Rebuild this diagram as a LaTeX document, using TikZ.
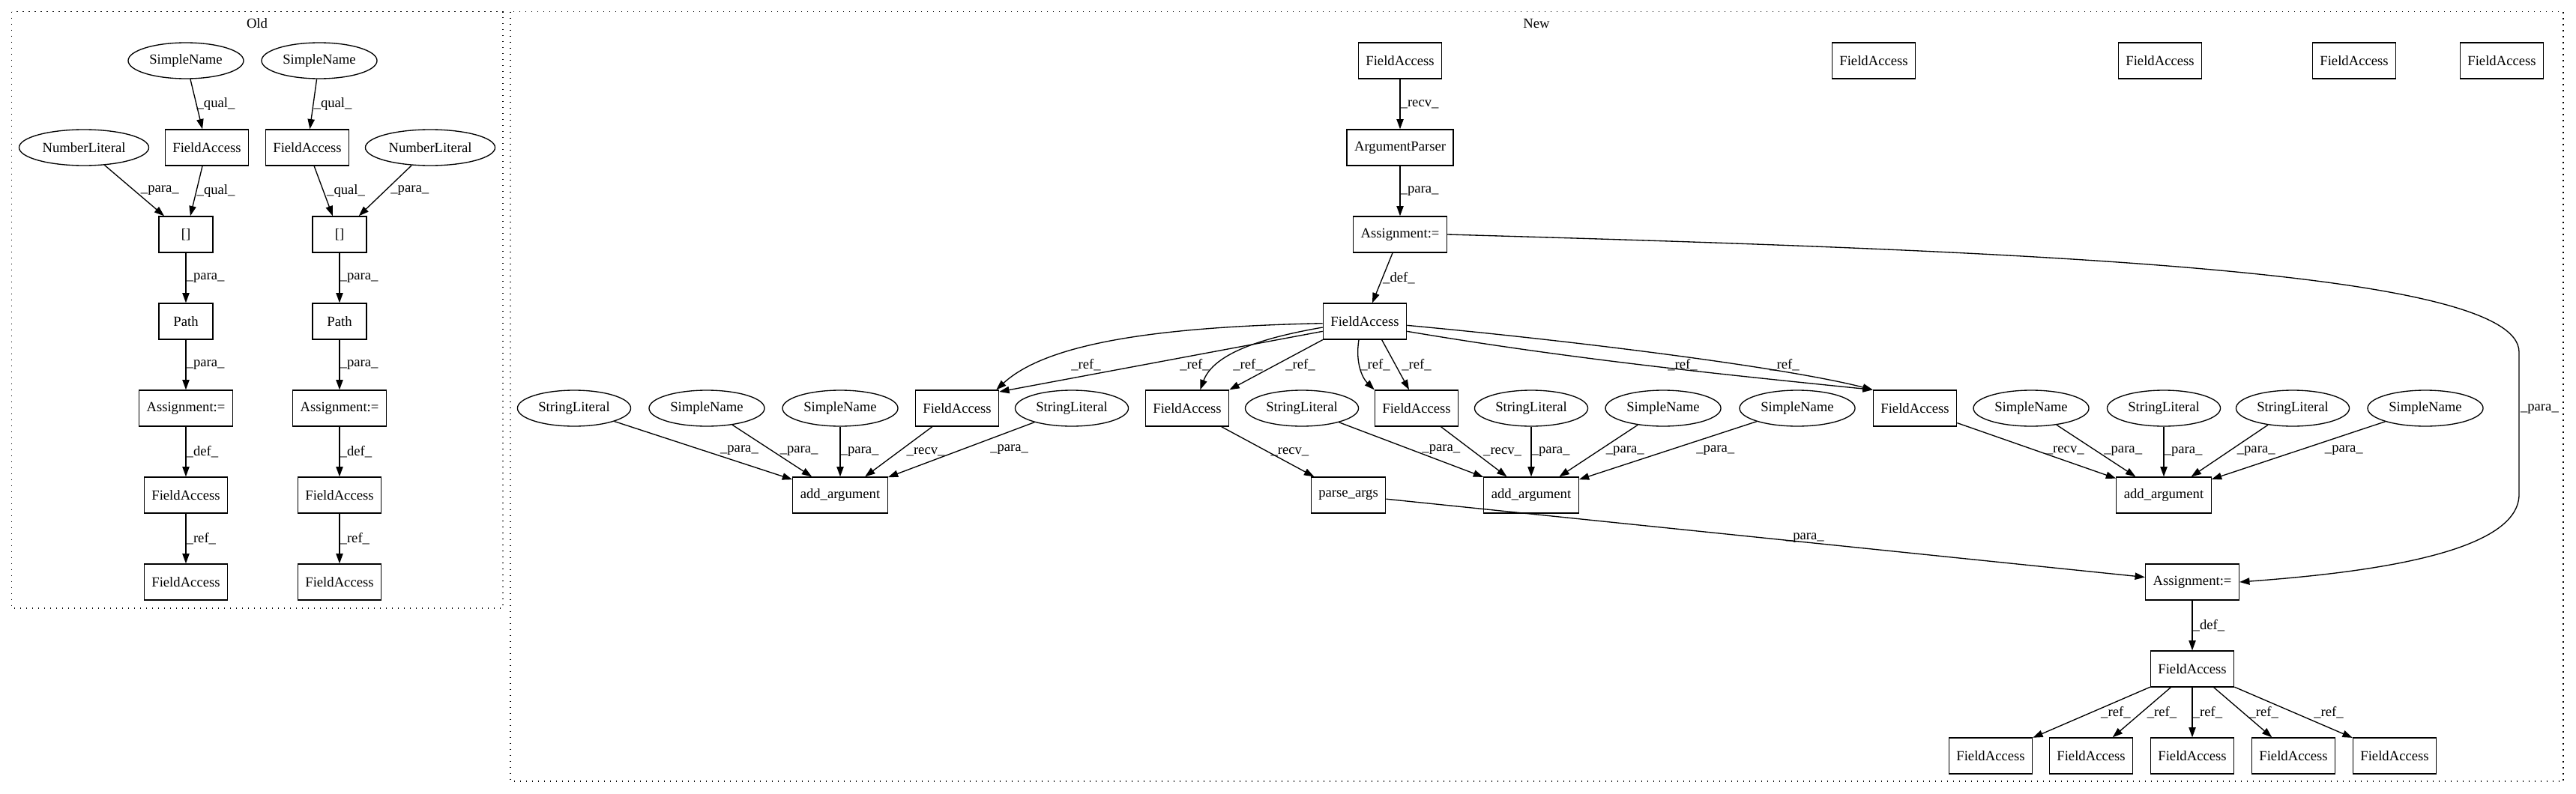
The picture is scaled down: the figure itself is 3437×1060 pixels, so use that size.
\documentclass[tikz,border=0pt]{standalone}
\usepackage{fontspec}
\setmainfont{Liberation Serif}
\usetikzlibrary{shapes.geometric, arrows.meta, positioning}

\begin{document}
\begin{tikzpicture}[
    x=0.75pt, y=-0.75pt,
    font=\fontsize{14}{16}\selectfont,
    box/.style={rectangle, draw=black, line width=1pt, minimum width=54pt, minimum height=36pt, inner xsep=7.5pt, inner ysep=2pt},
    oval/.style={ellipse, draw=black, line width=1pt, minimum height=36pt, inner xsep=4.3pt, inner ysep=1pt},
    arrow/.style={-{Triangle[length=10pt, width=7pt]}, line width=1pt},
    lbl/.style={anchor=west, inner sep=0pt},
    cluster/.style={draw=black, line width=1pt, dash pattern=on 1pt off 5pt}
]
\useasboundingbox (0,0) rectangle (3437,1060);

% Old cluster
\draw[cluster] (15.5,15.5) rectangle (671,812);
\node (oldtitle) at (343,31) {Old};

\node[oval] (sname1) at (248,81) {SimpleName};
\node[oval] (sname2) at (426,81) {SimpleName};
\node[oval] (numlit1) at (112,197) {NumberLiteral};
\node[box] (field1) at (276,197) {FieldAccess};
\node[box] (field2) at (410,197) {FieldAccess};
\node[oval] (numlit2) at (574,197) {NumberLiteral};
\node[box] (index1) at (248,313) {[]};
\node[box] (index2) at (453,313) {[]};
\node[box, below=50pt of index1] (path1) {Path};
\node[box, below=50pt of index2] (path2) {Path};
\node[box, below=50pt of path1] (assign1) {Assignment:=};
\node[box, below=50pt of path2] (assign2) {Assignment:=};
\node[box, below=50pt of assign1] (fdef1) {FieldAccess};
\node[box, below=50pt of assign2] (fdef2) {FieldAccess};
\node[box, below=50pt of fdef1] (fref1) {FieldAccess};
\node[box, below=50pt of fdef2] (fref2) {FieldAccess};

% Old edges
\draw[arrow] (sname1) -- node[lbl] {\_qual\_} (field1);
\draw[arrow] (sname2) -- node[lbl] {\_qual\_} (field2);
\draw[arrow] (numlit1) -- node[lbl, xshift=6pt] {\_para\_} (index1);
\draw[arrow] (field1) -- node[lbl] {\_qual\_} (index1);
\draw[arrow] (field2) -- node[lbl, xshift=3pt] {\_qual\_} (index2);
\draw[arrow] (numlit2) -- node[lbl, xshift=5pt] {\_para\_} (index2);
\draw[arrow] (index1) -- node[lbl] {\_para\_} (path1);
\draw[arrow] (index2) -- node[lbl] {\_para\_} (path2);
\draw[arrow] (path1) -- node[lbl] {\_para\_} (assign1);
\draw[arrow] (path2) -- node[lbl] {\_para\_} (assign2);
\draw[arrow] (assign1) -- node[lbl] {\_def\_} (fdef1);
\draw[arrow] (assign2) -- node[lbl] {\_def\_} (fdef2);
\draw[arrow] (fdef1) -- node[lbl] {\_ref\_} (fref1);
\draw[arrow] (fdef2) -- node[lbl] {\_ref\_} (fref2);

% New cluster
\draw[cluster] (681,15.5) rectangle (3420,1043);
\node (newtitle) at (2050,31) {New};

\node[box] (fieldtop) at (1868,81) {FieldAccess};
\node[box, below=50pt of fieldtop] (argparser) {ArgumentParser};
\node[box, below=50pt of argparser] (assigntop) {Assignment:=};
\node[box] (lone1) at (2500,81) {FieldAccess};
\node[box] (lone2) at (2882,81) {FieldAccess};
\node[box] (lone3) at (3141,81) {FieldAccess};
\node[box] (lone4) at (3338,81) {FieldAccess};

\node[box] (fmain) at (1821,429) {FieldAccess};

% Arguments row
\node[oval] (strlit1) at (766,545) {StringLiteral};
\node[oval] (simple1) at (943,545) {SimpleName};
\node[oval] (simple2) at (1121,545) {SimpleName};
\node[box] (fuse1) at (1277,545) {FieldAccess};
\node[oval] (strlit2) at (1430,545) {StringLiteral};
\node[box] (fuse2) at (1584,545) {FieldAccess};
\node[oval] (strlit3) at (1737,545) {StringLiteral};
\node[box] (fuse3) at (1890,545) {FieldAccess};
\node[oval] (strlit4) at (2043,545) {StringLiteral};
\node[oval] (simple3) at (2219,545) {SimpleName};
\node[oval] (simple4) at (2398,545) {SimpleName};
\node[box] (fuse4) at (2555,545) {FieldAccess};
\node[oval] (simple5) at (2710,545) {SimpleName};
\node[oval] (strlit5) at (2887,545) {StringLiteral};
\node[oval] (strlit6) at (3059,545) {StringLiteral};
\node[oval] (simple6) at (3236,545) {SimpleName};

% Calls
\node[box] (addarg1) at (1121,661) {add\_argument};
\node[box] (parseargs) at (1799,661) {parse\_args};
\node[box] (addarg2) at (2043,661) {add\_argument};
\node[box] (addarg3) at (2887,661) {add\_argument};

\node[box] (assignbot) at (2925,777) {Assignment:=};
\node[box, below=50pt of assignbot] (fdefnew) {FieldAccess};
\node[box] (leaf1) at (2656,1009) {FieldAccess};
\node[box] (leaf2) at (2790,1009) {FieldAccess};
\node[box] (leaf3) at (2925,1009) {FieldAccess};
\node[box] (leaf4) at (3060,1009) {FieldAccess};
\node[box] (leaf5) at (3195,1009) {FieldAccess};

% Parser chain
\draw[arrow] (fieldtop) -- node[lbl] {\_recv\_} (argparser);
\draw[arrow] (argparser) -- node[lbl] {\_para\_} (assigntop);
\draw[arrow] (assigntop) -- node[lbl] {\_def\_} (fmain);

% References of the parser
\draw[arrow] ([yshift=-2pt]fmain.west) .. controls (1560,436) and (1400,455) .. ([xshift=-3pt]fuse1.north east);
\draw[arrow] ([yshift=-10pt]fmain.west) -- ([yshift=-2pt]fuse1.north east);
\draw[arrow] ([yshift=-6pt]fmain.west) .. controls (1690,450) and (1620,470) .. ([xshift=13pt]fuse2.north);
\draw[arrow] (fmain.south west) -- (fuse2.north east);
\draw[arrow] ([xshift=-6pt]fmain.south) .. controls (1808,485) and (1818,505) .. (fuse3.north west);
\draw[arrow] ([xshift=17pt]fmain.south) -- ([xshift=-7.5pt]fuse3.north);
\draw[arrow] ([yshift=-4pt]fmain.east) .. controls (2100,455) and (2380,490) .. (fuse4.north west);
\draw[arrow] ([yshift=-10pt]fmain.east) .. controls (2100,480) and (2300,500) .. (fuse4.north west);
\node[lbl] (reflbl1) at (1429,487) {\_ref\_};
\node[lbl] (reflbl2) at (1574,487) {\_ref\_};
\node[lbl] (reflbl3) at (1645,487) {\_ref\_};
\node[lbl] (reflbl4) at (1715,487) {\_ref\_};
\node[lbl] (reflbl5) at (1815,487) {\_ref\_};
\node[lbl] (reflbl6) at (1870,487) {\_ref\_};
\node[lbl] (reflbl7) at (2225,487) {\_ref\_};
\node[lbl] (reflbl8) at (2361,487) {\_ref\_};

% Arguments to calls
\draw[arrow] (strlit1) -- node[lbl, xshift=16.5pt] {\_para\_} (addarg1);
\draw[arrow] (simple1) -- node[lbl, xshift=7.5pt] {\_para\_} (addarg1);
\draw[arrow] (simple2) -- node[lbl] {\_para\_} (addarg1);
\draw[arrow] (fuse1) -- node[lbl, xshift=7.5pt] {\_recv\_} (addarg1);
\draw[arrow] (strlit2) -- node[lbl, xshift=28.5pt] {\_para\_} (addarg1);
\draw[arrow] (fuse2) -- node[lbl, xshift=2.5pt] {\_recv\_} (parseargs);
\draw[arrow] (strlit3) -- node[lbl, xshift=10.5pt] {\_para\_} (addarg2);
\draw[arrow] (fuse3) -- node[lbl, xshift=9pt] {\_recv\_} (addarg2);
\draw[arrow] (strlit4) -- node[lbl] {\_para\_} (addarg2);
\draw[arrow] (simple3) -- node[lbl, xshift=7pt] {\_para\_} (addarg2);
\draw[arrow] (simple4) -- node[lbl, xshift=28pt] {\_para\_} (addarg2);
\draw[arrow] (fuse4) -- node[lbl, xshift=9pt] {\_recv\_} (addarg3);
\draw[arrow] (simple5) -- node[lbl, xshift=7.5pt] {\_para\_} (addarg3);
\draw[arrow] (strlit5) -- node[lbl] {\_para\_} (addarg3);
\draw[arrow] (strlit6) -- node[lbl, xshift=7pt] {\_para\_} (addarg3);
\draw[arrow] (simple6) -- node[lbl, xshift=26pt] {\_para\_} (addarg3);

% Into the second assignment
\draw[arrow] (parseargs) -- node[lbl, xshift=20pt] {\_para\_} (assignbot);
\draw[arrow] (assigntop.east) .. controls (2700,335) and (3361,360) .. (3361,470) -- node[lbl, pos=0.4, xshift=1pt] {\_para\_} (3361,660) .. controls (3361,740) and (3150,765) .. (assignbot.east);
\draw[arrow] (assignbot) -- node[lbl] {\_def\_} (fdefnew);

% Uses of the parsed field
\draw[arrow] (fdefnew) -- node[lbl, xshift=9pt] {\_ref\_} (leaf1);
\draw[arrow] (fdefnew) -- node[lbl, xshift=5pt] {\_ref\_} (leaf2);
\draw[arrow] (fdefnew) -- node[lbl] {\_ref\_} (leaf3);
\draw[arrow] (fdefnew) -- node[lbl, xshift=5.5pt] {\_ref\_} (leaf4);
\draw[arrow] (fdefnew) -- node[lbl, xshift=20pt] {\_ref\_} (leaf5);

\end{tikzpicture}
\end{document}
